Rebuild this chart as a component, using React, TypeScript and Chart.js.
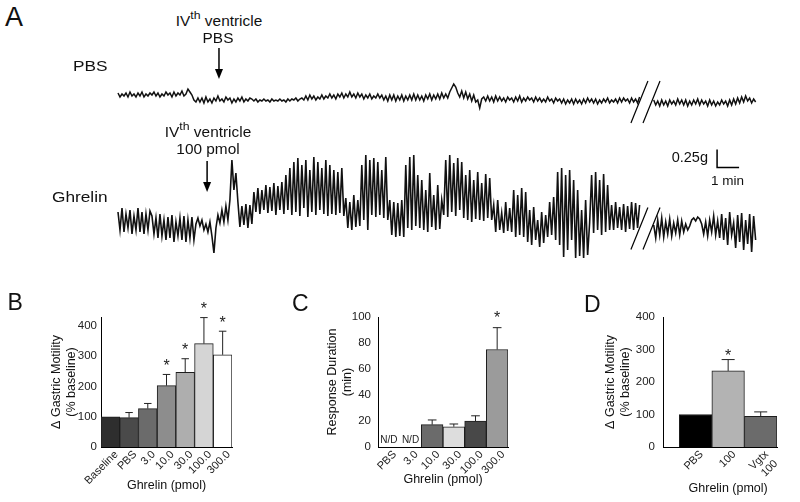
import React, { useEffect, useRef } from 'react';
import { Chart, registerables } from 'chart.js';
Chart.register(...registerables);

const FONT = '"Liberation Sans", Arial, Helvetica, sans-serif';
Chart.defaults.font.family = FONT;

// ---------- Panel A: motility traces (recorded units; 18 units = 0.25 g) ----------
const SAMPLE_SEC = 5.45;
const SEG2_START_MIN = 24.35;
const TRACE_SPAN_MIN = 29.09;
const SCALE_BAR_G = 0.25;
const UNITS_PER_G = 72;
const BREAK_MIN = [23.7, 24.25];
const PBS_INJ_MIN = 4.59;
const GHR_INJ_MIN = 4.05;

const PBS_SEG1 = [
  4,0,3,1,4,0,5,1,3,0,4,1,5,0,3,1,4,2,5,1,4,0,3,1,5,2,4,0,5,1,4,2,6,1,
  3,8,5,2,-3,-5,
  -1,-5,-1,-6,0,-5,-2,-6,-1,-4,1,-4,-2,-5,0,-3,-1,-6,-2,-5,-1,-4,0,-5,-2,-4,-1,
  -2,-4,-2,-5,-3,-4,-2,-4,-3,-5,-2,-4,-3,-4,-2,-4,-3,-5,-2,-4,-2,-3,-1,-4,-2,
  -1,-3,1,-3,2,-2,1,-3,0,-2,2,-2,1,-1,3,-1,2,-2,3,0,4,-1,3,0,5,0,3,-1,4,0,3,-2,2,-1,3,-2,1,-1,3,-1,
  2,-3,1,-4,2,-3,2,-4,1,-3,2,-4,1,-3,2,-3,3,-3,2,-3,1,-4,2,-2,3,-3,2,-2,3,-2,4,-1,3,-1,5,
  9,13,10,4,
  0,6,-1,5,-2,3,-4,2,-5,-3,-11,
  -2,0,-4,1,-4,0,-5,1,-4,0,-4,-1,-5,0,-3,-1,-5,0,-4,1,-5,-1,-4,0,-3,-1,-5,0,-4,-1,-5,-2,-5,0,-4,-2,-6,-1,-4,-2,
  -6,-2,-7,-3,-6,-2,-7,-2,-6,-3,-7,-2,-6,-1,-5,-2,-6,-2,-7,-3,-6,-2,-5,-1,-6,-3,-5,-2,-6,-1,-5,-1,-4,-2,-6,-1,-5,-2,-6,0,
];
const PBS_SEG2 = [
  -3,-8,-4,-9,-3,-8,-4,-9,-3,-7,-4,-8,-2,-7,-3,-8,-3,-9,-4,-8,
  -3,-7,-2,-8,-3,-7,-4,-9,-3,-8,-4,-9,-5,-8,-3,-7,-4,-9,-3,-8,
  -2,-7,-1,-6,0,-5,1,-4,-1,-6,-2,-5,
];
const GHR_SEG1 = [
  8,-10,12,-12,6,-8,10,-14,4,-10,12,-12,8,-14,6,-10,9,
  4,-14,2,-18,6,-16,0,-20,3,-18,5,-22,-2,-16,2,-20,4,-22,0,-18,3,-20,-4,
  2,-6,0,-10,-4,-12,-2,-16,
  -33,
  -8,5,-3,10,-2,14,0,20,
  60,30,47,
  18,-7,14,-5,16,-8,15,-4,
  28,8,32,6,30,10,35,7,33,9,37,5,34,10,38,
  6,45,10,52,5,58,8,62,4,55,12,60,3,50,8,63,5,58,10,52,6,60,4,55,
  6,50,5,48,7,52,4,
  22,-8,18,-10,25,-7,20,
  -6,55,0,65,-10,60,5,62,
  3,58,5,50,2,63,0,
  20,-15,18,-17,17,-16,20,-17,
  55,-8,63,-10,65,-6,45,
  -8,40,-10,30,-12,47,-7,25,-10,35,-9,20,
  5,60,3,65,8,57,4,62,10,58,
  2,45,0,50,-2,40,1,48,0,37,-1,46,2,42,0,
  15,-12,20,-10,7,-13,18,-11,12,-12,
  30,-17,25,-15,32,-17,28,
  -22,10,-25,13,-20,0,-27,8,-23,5,
  -17,18,-15,23,-20,
  48,-25,52,-37,45,-30,50,-20,40,
  -38,30,-36,10,-38,20,-35,-3,
  45,-13,48,-10,40,-15,46,-12,35,-10,
  15,-10,18,-8,13,-10,16,-12,14,-9,18,-10,17,-8,15,
];
const GHR_SEG2 = [
  -5,-18,0,-15,2,-17,-2,-14,1,-16,-3,-13,0,-15,-1,-12,-4,-10,-6,
  0,2,-1,3,1,-4,
  -14,-2,-16,0,-12,4,-15,-1,-18,
  6,-20,2,-25,8,-15,-3,-28,5,-22,7,-30,0,-24,6,-32,4,-20,
];

// ---------- Panel B ----------
const B_LABELS = ['Baseline', 'PBS', '3.0', '10.0', '30.0', '100.0', '300.0'];
const B_MEAN = [100, 97, 127, 203, 247, 342, 305];
const B_SEM = [0, 17, 17, 37, 45, 86, 78];
const B_SIG = [false, false, false, true, true, true, true];
const B_COLORS = ['#2e2e2e', '#4a4a4a', '#6b6b6b', '#8d8d8d', '#aeaeae', '#d5d5d5', '#ffffff'];
const B_Y_TICKS = { max: 430, step: 100 };

// ---------- Panel C ----------
const C_LABELS = ['PBS', '3.0', '10.0', '30.0', '100.0', '300.0'];
const C_MEAN: (number | null)[] = [null, null, 17.2, 15.6, 20, 75];
const C_SEM = [0, 0, 3.6, 2.1, 4, 16.8];
const C_SIG = [false, false, false, false, false, true];
const C_COLORS = ['#ffffff', '#ffffff', '#6b6b6b', '#dddddd', '#484848', '#9b9b9b'];
const C_Y_TICKS = { max: 100, step: 20 };

// ---------- Panel D ----------
const D_LABELS: (string | string[])[] = ['PBS', '100', ['Vgtx', '100']];
const D_MEAN = [100, 234, 94];
const D_SEM = [0, 35, 14];
const D_SIG = [false, true, false];
const D_COLORS = ['#000000', '#b3b3b3', '#6b6b6b'];
const D_Y_TICKS = { max: 400, step: 100 };

const X_TITLE = 'Ghrelin (pmol)';
const MOTILITY_TITLE = ['\u0394 Gastric Motility', '(% baseline)'];
const DURATION_TITLE = ['Response Duration', '(min)'];

// ---------- plugins ----------
const traceAnnot = {
  id: 'traceAnnot',
  afterDraw(chart: any, _a: any, o: any) {
    const { ctx } = chart;
    const x = chart.scales.x, y = chart.scales.y;
    ctx.save();
    ctx.strokeStyle = '#000';
    ctx.fillStyle = '#000';
    if (o.arrow) {
      const ax = x.getPixelForValue(o.arrow.t);
      const tip = y.getPixelForValue(o.arrow.tip);
      ctx.lineWidth = 1.5;
      ctx.beginPath();
      ctx.moveTo(ax, tip - o.arrow.len);
      ctx.lineTo(ax, tip - 8);
      ctx.stroke();
      ctx.beginPath();
      ctx.moveTo(ax - 4, tip - 10);
      ctx.lineTo(ax + 4, tip - 10);
      ctx.lineTo(ax, tip);
      ctx.closePath();
      ctx.fill();
    }
    if (o.breaks) {
      ctx.lineWidth = 1.2;
      const cy = y.getPixelForValue(o.breaks.center);
      BREAK_MIN.forEach((t) => {
        const cx = x.getPixelForValue(t);
        ctx.beginPath();
        ctx.moveTo(cx - 8.5, cy + 21);
        ctx.lineTo(cx + 8.5, cy - 21);
        ctx.stroke();
      });
    }
    if (o.scaleBar) {
      const { t, base } = o.scaleBar;
      const x0 = x.getPixelForValue(t), x1 = x.getPixelForValue(t + 1);
      const y0 = y.getPixelForValue(base), y1 = y.getPixelForValue(base + SCALE_BAR_G * UNITS_PER_G);
      ctx.lineWidth = 1.5;
      ctx.beginPath();
      ctx.moveTo(x0, y1);
      ctx.lineTo(x0, y0);
      ctx.lineTo(x1, y0);
      ctx.stroke();
    }
    ctx.restore();
  },
};

const barExtras = {
  id: 'barExtras',
  afterDatasetsDraw(chart: any, _a: any, o: any) {
    const { ctx } = chart;
    const xs = chart.scales.x, ys = chart.scales.y;
    const meta = chart.getDatasetMeta(0);
    ctx.save();
    o.means.forEach((m: number | null, i: number) => {
      const cx = xs.getPixelForValue(i);
      if (m == null) {
        ctx.font = `10px ${FONT}`;
        ctx.fillStyle = '#222';
        ctx.textAlign = 'center';
        ctx.textBaseline = 'alphabetic';
        ctx.fillText('N/D', cx, ys.getPixelForValue(0) - 4);
        return;
      }
      const w = meta.data[i].width;
      const sem = o.sems[i];
      const yTop = ys.getPixelForValue(m);
      const yErr = ys.getPixelForValue(m + sem);
      if (sem > 0) {
        ctx.strokeStyle = '#222';
        ctx.lineWidth = 1;
        const cw = w * 0.4;
        ctx.beginPath();
        ctx.moveTo(cx, yTop);
        ctx.lineTo(cx, yErr);
        ctx.moveTo(cx - cw / 2, yErr);
        ctx.lineTo(cx + cw / 2, yErr);
        ctx.stroke();
      }
      if (o.sig[i]) {
        const ref = sem > 0 ? yErr : yTop;
        ctx.font = `16px ${FONT}`;
        ctx.fillStyle = '#222';
        ctx.textAlign = 'center';
        ctx.textBaseline = 'alphabetic';
        ctx.fillText('*', cx, ref - o.starGap + 0.57 * 16);
      }
    });
    if (o.xTitle) {
      ctx.font = `12.5px ${FONT}`;
      ctx.fillStyle = '#111';
      ctx.textAlign = 'center';
      ctx.textBaseline = 'alphabetic';
      ctx.fillText(o.xTitle.text, xs.getPixelForValue(o.xTitle.at), ys.getPixelForValue(0) + o.xTitle.below);
    }
    ctx.restore();
  },
};

// ---------- configs ----------
function traceConfig(o: any) {
  const dt = SAMPLE_SEC / 60;
  const seg1 = o.seg1.map((v: number, i: number) => ({ x: i * dt, y: v }));
  const seg2 = o.seg2.map((v: number, i: number) => ({ x: SEG2_START_MIN + i * dt, y: v }));
  const ds = (d: any) => ({
    data: d, showLine: true, borderColor: '#111', borderWidth: o.lw,
    pointRadius: 0, tension: 0, fill: false, clip: false,
  });
  return {
    type: 'scatter',
    data: { datasets: [ds(seg1), ds(seg2)] },
    options: {
      responsive: false, animation: false, devicePixelRatio: 1,
      layout: { padding: o.padding },
      plugins: { legend: { display: false }, tooltip: { enabled: false }, traceAnnot: o.annot },
      scales: {
        x: { type: 'linear', display: false, min: 0, max: TRACE_SPAN_MIN },
        y: { type: 'linear', display: false, min: o.yMin, max: o.yMax },
      },
    },
    plugins: [traceAnnot],
  };
}

function barConfig(o: any) {
  const tickFont = { family: FONT, size: 11.5 };
  const xTickFont = { family: FONT, size: 11 };
  const titleFont = { family: FONT, size: 12.5 };
  const linear = !!o.linearX;
  return {
    type: 'bar',
    data: {
      labels: linear ? undefined : o.labels,
      datasets: [{
        data: linear ? o.means.map((v: number, i: number) => ({ x: i, y: v })) : o.means,
        backgroundColor: o.colors, borderColor: '#1e1e1e', borderWidth: 1,
        categoryPercentage: 1, barPercentage: 1,
      }],
    },
    options: {
      responsive: false, animation: false, devicePixelRatio: 1,
      layout: { padding: o.padding },
      plugins: {
        legend: { display: false }, tooltip: { enabled: false },
        barExtras: { means: o.means, sems: o.sems, sig: o.sig, starGap: o.starGap, xTitle: o.customXTitle },
      },
      scales: {
        x: {
          ...(linear ? { type: 'linear', min: -1, max: o.labels.length - 0.5, offset: false } : {}),
          grid: { display: false, drawTicks: false },
          border: { display: true, color: '#000', width: 1 },
          ticks: {
            autoSkip: false, minRotation: 45, maxRotation: 45, padding: 1, labelOffset: 6,
            font: xTickFont, color: '#222',
            ...(linear ? { stepSize: 1, includeBounds: false, callback: (v: number) => o.labels[v] ?? '' } : {}),
          },
          title: {
            display: !o.customXTitle, text: X_TITLE, font: titleFont, color: '#111',
            padding: { top: 0, bottom: o.xTitlePad || 0 },
          },
          afterFit: (s: any) => { s.height = 55; },
        },
        y: {
          min: 0, max: o.yTicks.max,
          grid: { display: false, drawTicks: false },
          border: { display: true, color: '#000', width: 1 },
          ticks: { stepSize: o.yTicks.step, includeBounds: false, padding: o.yTickPad, font: tickFont, color: '#222' },
          title: { display: true, text: o.yTitle, font: titleFont, color: '#111', padding: { top: 0, bottom: 0 } },
          afterFit: (s: any) => { s.width = o.yWidth; },
        },
      },
    },
    plugins: [barExtras],
  };
}

// ---------- components ----------
function ChartBox({ left, top, width, height, make }: any) {
  const ref = useRef<HTMLCanvasElement>(null);
  useEffect(() => {
    const chart = new Chart(ref.current as HTMLCanvasElement, make() as any);
    return () => chart.destroy();
  }, []);
  return <canvas ref={ref} width={width} height={height} style={{ position: 'absolute', left, top, width, height }} />;
}

function Txt({ x, base, size, align = 'left', sx = 1, children }: any) {
  const w = 300;
  const left = align === 'left' ? x : align === 'center' ? x - w / 2 : x - w;
  return (
    <div style={{
      position: 'absolute', left, top: base - 0.8465 * size, width: w, lineHeight: `${size}px`,
      fontSize: size, fontFamily: FONT, textAlign: align, whiteSpace: 'nowrap', color: '#111',
      transform: `scaleX(${sx})`, transformOrigin: align === 'left' ? 'left' : align === 'center' ? 'center' : 'right',
    }}>{children}</div>
  );
}

const Sup = () => <span style={{ fontSize: '0.8em', position: 'relative', top: '-7px' }}>th</span>;

export default function App() {
  return (
    <div style={{ position: 'fixed', left: 0, top: 0, width: 800, height: 502, background: '#fff', overflow: 'hidden' }}>
      <ChartBox left={100} top={40} width={680} height={100} make={() => traceConfig({
        seg1: PBS_SEG1, seg2: PBS_SEG2, lw: 1.5, yMin: -33, yMax: 27,
        padding: { left: 18, right: 22, top: 30, bottom: 10 },
        annot: { arrow: { t: PBS_INJ_MIN, tip: 18, len: 31 }, breaks: { center: -5 } },
      })} />
      <ChartBox left={100} top={120} width={680} height={160} make={() => traceConfig({
        seg1: GHR_SEG1, seg2: GHR_SEG2, lw: 1.6, yMin: -50, yMax: 80,
        padding: { left: 18, right: 22, top: 20, bottom: 10 },
        annot: { arrow: { t: GHR_INJ_MIN, tip: 28, len: 31 }, breaks: { center: -8.5 }, scaleBar: { t: 27.23, base: 52.5 } },
      })} />
      <ChartBox left={40} top={300} width={200} height={202} make={() => barConfig({
        labels: B_LABELS, means: B_MEAN, sems: B_SEM, sig: B_SIG, colors: B_COLORS, yTicks: B_Y_TICKS,
        yTitle: MOTILITY_TITLE, yWidth: 51.5, yTickPad: 4, xTitlePad: 9, starGap: 12.5,
        padding: { left: 9.5, right: 8, top: 17, bottom: 0 },
      })} />
      <ChartBox left={300} top={300} width={220} height={202} make={() => barConfig({
        labels: C_LABELS, means: C_MEAN, sems: C_SEM, sig: C_SIG, colors: C_COLORS, yTicks: C_Y_TICKS,
        yTitle: DURATION_TITLE, yWidth: 52.5, yTickPad: 7, xTitlePad: 15, starGap: 14,
        padding: { left: 25.5, right: 12, top: 17, bottom: 0 },
      })} />
      <ChartBox left={590} top={300} width={210} height={202} make={() => barConfig({
        labels: D_LABELS, means: D_MEAN, sems: D_SEM, sig: D_SIG, colors: D_COLORS, yTicks: D_Y_TICKS,
        yTitle: MOTILITY_TITLE, yWidth: 60, yTickPad: 8, starGap: 8, linearX: true,
        customXTitle: { text: X_TITLE, at: 1, below: 45 },
        padding: { left: 13, right: 23, top: 17, bottom: 0 },
      })} />

      <Txt x={5} base={27} size={27}>A</Txt>
      <Txt x={219} base={26} size={14} align="center" sx={1.1}>IV<Sup /> ventricle</Txt>
      <Txt x={217.5} base={43} size={14} align="center" sx={1.1}>PBS</Txt>
      <Txt x={73} base={70.5} size={15} sx={1.15}>PBS</Txt>
      <Txt x={52} base={202} size={15} sx={1.15}>Ghrelin</Txt>
      <Txt x={207.5} base={137} size={14} align="center" sx={1.1}>IV<Sup /> ventricle</Txt>
      <Txt x={207.5} base={153.5} size={14} align="center" sx={1.1}>100 pmol</Txt>
      <Txt x={708} base={162.5} size={14.5} align="right">0.25g</Txt>
      <Txt x={727.5} base={185} size={13.5} align="center">1 min</Txt>
      <Txt x={7.5} base={310} size={23}>B</Txt>
      <Txt x={292} base={311} size={23}>C</Txt>
      <Txt x={584} base={312} size={23}>D</Txt>
    </div>
  );
}
